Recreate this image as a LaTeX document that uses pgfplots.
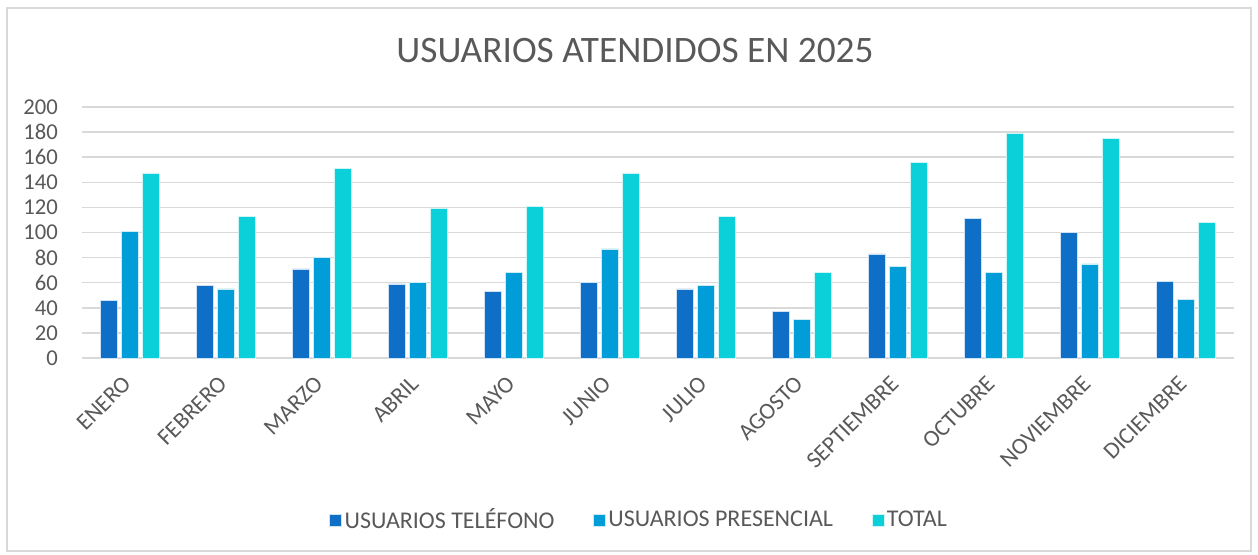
\documentclass[border=0pt]{standalone}
\usepackage{pgfplots}
\pgfplotsset{compat=1.18}
\usepackage{fontspec}
\setmainfont{Carlito}
\definecolor{tel}{HTML}{0F6FC6}
\definecolor{pres}{HTML}{009DD9}
\definecolor{tot}{HTML}{0BD0D9}
\definecolor{txt}{HTML}{595959}
\definecolor{gridc}{HTML}{D9D9D9}
\begin{document}
\begin{tikzpicture}[x=0.75pt,y=0.75pt]
\path[use as bounding box] (0,0) rectangle (1258,554);
\draw[gridc, line width=1.2pt] (7,3) rectangle (1251,546);
\node[txt, font=\fontsize{28}{32}\selectfont] at (635,503) {USUARIOS ATENDIDOS EN 2025};
\begin{axis}[
  at={(61.5pt,147pt)}, anchor=south west,
  scale only axis, width=864pt, height=188.25pt,
  xmin=-0.5, xmax=11.5, ymin=0, ymax=200,
  ybar=3.3pt, bar width=12.5pt,
  axis line style={draw=none},
  ytick={0,20,...,200},
  ymajorgrids, grid style={gridc, line width=1.1pt},
  major tick length=0pt,
  xtick={0,...,11},
  xticklabels={ENERO,FEBRERO,MARZO,ABRIL,MAYO,JUNIO,JULIO,AGOSTO,SEPTIEMBRE,OCTUBRE,NOVIEMBRE,DICIEMBRE},
  xticklabel style={xshift=-6.5pt, yshift=-7.4pt, rotate=45, anchor=north east, font=\fontsize{17.5}{20}\selectfont, text=txt},
  yticklabel style={font=\fontsize{17}{20}\selectfont, text=txt, xshift=-14.5pt},
  /pgf/number format/assume math mode=true,
  legend columns=3,
  legend style={at={(0.484,-0.645)}, anchor=center, draw=none, fill=none,
    font=\fontsize{18}{21}\selectfont, text=txt,
    /tikz/every even column/.append style={column sep=27pt}},
  legend image code/.code={\fill (0pt,-4.5pt) rectangle (9pt,4.5pt);},
]
\addplot[fill=tel, draw=white!80!tel, line width=0.4pt] coordinates {(0,46) (1,58) (2,71) (3,59) (4,53) (5,60) (6,55) (7,37) (8,83) (9,111) (10,100) (11,61)};
\addplot[fill=pres, draw=white!80!pres, line width=0.4pt] coordinates {(0,101) (1,55) (2,80) (3,60) (4,68) (5,87) (6,58) (7,31) (8,73) (9,68) (10,75) (11,47)};
\addplot[fill=tot, draw=white!80!tot, line width=0.4pt] coordinates {(0,147) (1,113) (2,151) (3,119) (4,121) (5,147) (6,113) (7,68) (8,156) (9,179) (10,175) (11,108)};
\legend{USUARIOS TELÉFONO, USUARIOS PRESENCIAL, TOTAL}
\end{axis}
\end{tikzpicture}
\end{document}
